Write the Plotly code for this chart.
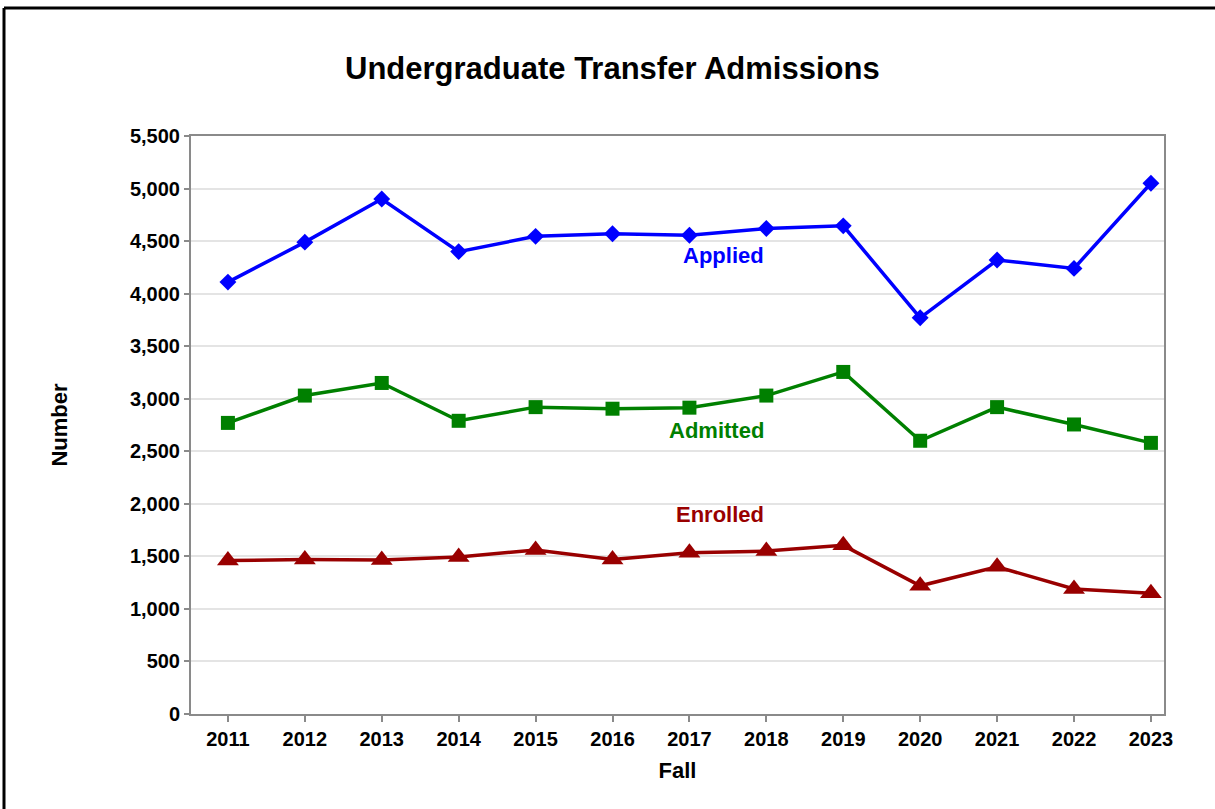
import plotly.graph_objects as go

years = list(range(2011, 2024))
applied = [4110, 4490, 4900, 4400, 4545, 4570, 4555, 4620, 4645, 3770, 4320, 4240, 5050]
admitted = [2770, 3030, 3150, 2790, 2920, 2905, 2915, 3030, 3255, 2600, 2920, 2755, 2580]
enrolled = [1460, 1470, 1465, 1495, 1560, 1470, 1535, 1550, 1605, 1220, 1400, 1190, 1150]

y_ticks = list(range(0, 5501, 500))

W, H = 1215, 809
L, R, T, B = 191, 51, 136, 95


def px_to_paper(xp, yp):
    # pixel position on the page -> paper coordinates of the plot area
    pw = W - L - R
    ph = H - T - B
    return (xp - L) / pw, (H - B - yp) / ph


font_main = "Liberation Sans, Arial, sans-serif"

series = [
    ("Applied", applied, "#0000ff", "diamond", 13, 2017.44, 4360),
    ("Admitted", admitted, "#008000", "square", 14, 2017.35, 2700),
    ("Enrolled", enrolled, "#990000", "triangle-up", 19, 2017.4, 1895),
]

fig = go.Figure()
for name, vals, color, sym, size, lx, ly in series:
    fig.add_trace(go.Scatter(
        x=years, y=vals, name=name, mode="lines+markers",
        line=dict(color=color, width=3.5),
        marker=dict(symbol=sym, size=size, color=color),
    ))
    fig.add_annotation(
        x=lx, y=ly, text=f"<b>{name}</b>", showarrow=False,
        font=dict(family=font_main, size=22, color=color),
    )

# outer frame (top and left edges only are visible)
x0, y0 = px_to_paper(4, 8)
x1, _ = px_to_paper(W + 5, 8)
_, y1 = px_to_paper(4, H + 5)
fig.add_shape(type="line", xref="paper", yref="paper", x0=x0, y0=y0, x1=x1, y1=y0,
              line=dict(color="black", width=3))
fig.add_shape(type="line", xref="paper", yref="paper", x0=x0, y0=y0, x1=x0, y1=y1,
              line=dict(color="black", width=3))

fig.update_layout(
    width=W, height=H,
    margin=dict(l=L, r=R, t=T, b=B),
    paper_bgcolor="white",
    plot_bgcolor="white",
    showlegend=False,
    font=dict(family=font_main, color="black"),
    title=dict(
        text="<b>Undergraduate Transfer Admissions</b>",
        x=0.504, xanchor="center", y=1 - 68 / H, yanchor="middle",
        font=dict(size=31, family=font_main, color="black"),
    ),
)

fig.update_xaxes(
    range=[2010.52, 2023.17],
    tickvals=years, ticktext=[f"<b>{y}</b>" for y in years],
    tickfont=dict(size=20, family=font_main),
    ticks="outside", ticklen=6, tickwidth=2, tickcolor="#8a8a8a",
    showline=True, linecolor="#8a8a8a", linewidth=2, mirror=True,
    showgrid=False, zeroline=False,
    title=dict(text="<b>Fall</b>", font=dict(size=22, family=font_main), standoff=14),
)
fig.update_yaxes(
    range=[0, 5500],
    tickvals=y_ticks, ticktext=[f"<b>{v:,}</b>" for v in y_ticks],
    tickfont=dict(size=20, family=font_main),
    ticks="outside", ticklen=5, tickwidth=2, tickcolor="#8a8a8a",
    showline=True, linecolor="#8a8a8a", linewidth=2, mirror=True,
    showgrid=True, gridcolor="#e4e4e4", gridwidth=2, zeroline=False,
    title=dict(text="<b>Number</b>", font=dict(size=22, family=font_main), standoff=56),
)

# drop the browser's default page margin so the chart sits at the top-left corner
fig.write_html("out.html", config={"displayModeBar": False},
               post_script="document.body.style.margin='0';")
